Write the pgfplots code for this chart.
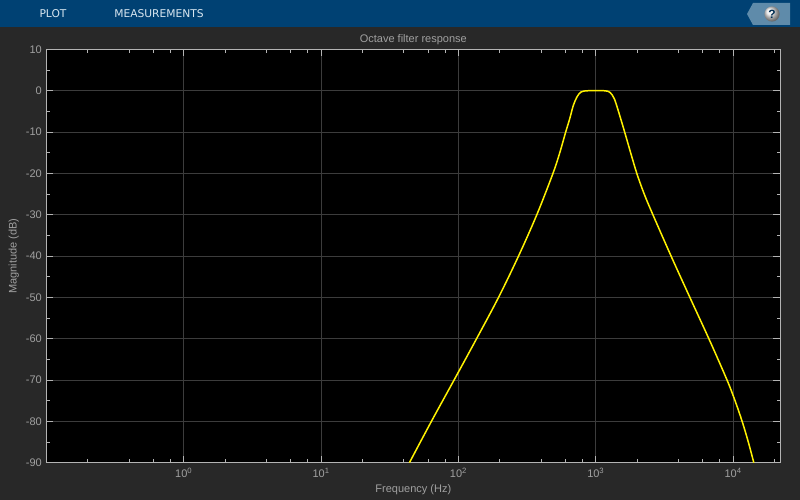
\documentclass[border=0pt]{standalone}
\usepackage{pgfplots}
\pgfplotsset{compat=1.18}
\usepackage{fontspec}
\setmainfont{Liberation Sans}
\newfontfamily\barfont{DejaVu Sans}
\definecolor{figbg}{HTML}{282828}
\definecolor{barbg}{HTML}{004173}
\definecolor{helpbg}{HTML}{5F8BAA}
\definecolor{gridc}{HTML}{3C3C3C}
\definecolor{framec}{HTML}{B4B4B4}
\definecolor{textc}{HTML}{A0A0A0}
\definecolor{bartext}{HTML}{D8E6F0}
\begin{document}
\begin{tikzpicture}[x=1pt,y=1pt]
\useasboundingbox (0,0) rectangle (800,500);
\fill[figbg] (0,0) rectangle (800,500);
\fill[barbg] (0,472.5) rectangle (800,500);
\node[text=bartext,font=\barfont\fontsize{10.7}{12}\selectfont,anchor=base] at (53,482.5) {PLOT};
\node[text=bartext,font=\barfont\fontsize{10.7}{12}\selectfont,anchor=base] at (159,482.5) {MEASUREMENTS};
\fill[helpbg] (790,497) -- (753,497) -- (747,486) -- (753,475) -- (790,475) -- cycle;
\shade[ball color=white!92!black] (772,486) circle (7.6);
\node[text=barbg!70!black,font=\bfseries\fontsize{12}{12}\selectfont] at (772,486) {?};
\begin{axis}[
  at={(46.3pt,37.3pt)}, anchor=south west,
  scale only axis, width=734pt, height=413.3pt,
  xmode=log, log basis x=10,
  xmin=0.1, xmax=22050, ymin=-90, ymax=10,
  axis background/.style={fill=black},
  axis line style={framec,line width=1pt},
  xtick={1,10,100,1000,10000},
  xticklabels={10\textsuperscript{0},10\textsuperscript{1},10\textsuperscript{2},10\textsuperscript{3},10\textsuperscript{4}},
  minor xtick={0.2,0.4,0.6,0.8,2,4,6,8,20,40,60,80,200,400,600,800,2000,4000,6000,8000,20000},
  ytick={-90,-80,-70,-60,-50,-40,-30,-20,-10,0,10},
  yticklabels={-90,-80,-70,-60,-50,-40,-30,-20,-10,0,10},
  minor ytick={-85,-75,-65,-55,-45,-35,-25,-15,-5,5},
  tick align=inside, ticks=both,
  major tick length=7pt, minor tick length=3.5pt,
  tick style={framec,line width=0.8pt},
  grid=major,
  major grid style={gridc,line width=1pt},
  tick label style={text=textc,font=\fontsize{11}{12}\selectfont},
  xticklabel style={yshift=-1.5pt},
  yticklabel style={xshift=-1pt},
  label style={text=textc,font=\fontsize{11}{12}\selectfont},
  title style={text=textc,font=\fontsize{11}{12}\selectfont,yshift=-5pt},
  title={Octave filter response},
  xlabel={Frequency (Hz)},
  ylabel={Magnitude (dB)},
  clip=true,
]
\addplot[color=yellow,line width=1.5pt,smooth,tension=0.55] table {
x y
44.0 -90
63.6 -80
93.0 -70
135.6 -60
196.0 -50
274.0 -40
372.3 -30
488 -20
547 -15
604 -10
646 -6.8
686 -3.6
730 -1.5
781 -0.3
859 -0.02
1000 0
1167 -0.02
1269 -0.4
1363 -1.9
1457 -4.8
1623 -10
1794 -15
1990 -20
2253 -25
2606 -30
3534 -40
4842 -50
6658 -60
9028 -70
10323 -75
11630 -80
12898 -85
14143 -90
};
\end{axis}
\end{tikzpicture}
\end{document}
